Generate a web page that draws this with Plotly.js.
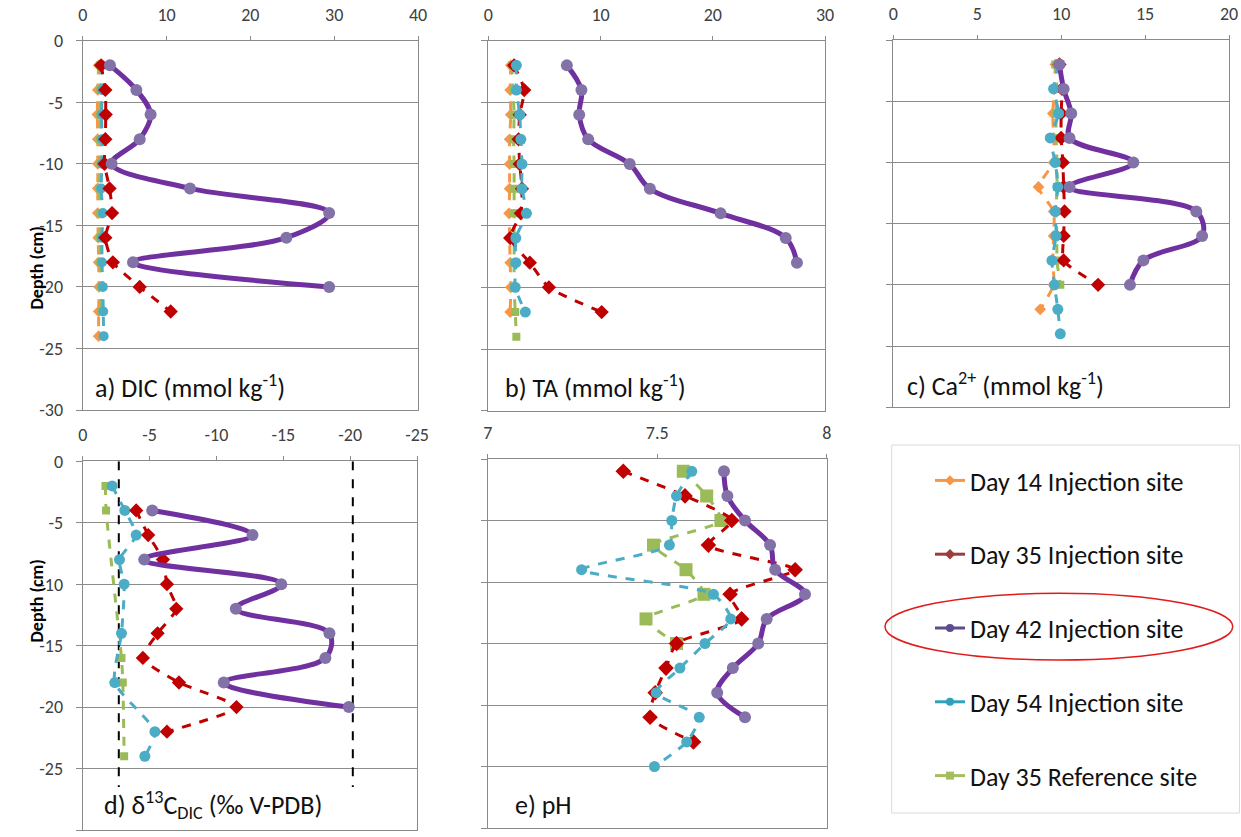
<!DOCTYPE html>
<html>
<head>
<meta charset="utf-8">
<script src="https://cdn.plot.ly/plotly-3.0.1.min.js"></script>
<style>html,body{margin:0;padding:0;background:#fff;}#chart{width:1241px;height:837px;}</style>
</head>
<body>
<div id="chart"></div>
<script>
// ---------- data ----------
const seriesNames = ['Day 14 Injection site','Day 35 Injection site','Day 42 Injection site','Day 54 Injection site','Day 35 Reference site'];
const depthEven = [-2,-4,-6,-8,-10,-12,-14,-16,-18,-20,-22,-24];
const depthOdd  = [-1,-3,-5,-7,-9,-11,-13,-15,-17,-19,-21,-23,-25];

// a) DIC (mmol kg-1)
const dicD14 = [1.9,1.8,1.75,1.8,1.8,1.8,1.8,1.85,1.9,1.95,1.9,1.9];
const dicD35 = [2.2,2.7,2.75,2.7,2.6,3.2,3.5,2.7,3.6,6.8,10.5,null];
const dicD42 = [3.25,6.4,8.1,6.8,3.45,12.8,29.4,24.3,6.0,29.4,null,null];
const dicD54 = [2.25,2.3,2.25,2.3,2.3,2.2,2.4,2.3,2.3,2.4,2.45,2.5];
const dicRef = [2.05,2.1,2.1,2.05,2.1,2.0,2.1,2.05,2.1,2.15,2.2,null];

// b) TA (mmol kg-1)
const taD14 = [2.0,1.95,2.0,1.9,1.9,1.9,1.85,1.9,1.95,2.0,1.95,null];
const taD35 = [2.3,3.2,2.8,2.7,2.8,3.0,2.9,1.95,3.7,5.4,10.1,null];
const taD42 = [7.0,8.3,8.1,8.9,12.6,14.4,20.7,26.5,27.5,null,null,null];
const taD54 = [2.5,2.5,2.8,2.9,3.0,3.0,3.4,2.45,2.45,2.4,3.3,null];
const taRef = [2.1,2.2,2.3,2.25,2.3,2.3,2.3,2.3,2.3,2.3,2.4,2.5];

// c) Ca2+ (mmol kg-1)
const caD14 = [9.65,9.6,9.5,9.55,9.55,8.65,9.55,9.55,9.5,9.55,8.75,null];
const caD35 = [9.9,10.05,10.0,10.0,10.1,10.15,10.2,10.15,10.15,12.2,null,null];
const caD42 = [9.9,10.15,10.6,10.5,14.3,10.5,18.05,18.4,14.9,14.1,null,null];
const caD54 = [9.85,9.55,9.85,9.35,9.65,9.8,9.65,9.7,9.45,9.6,9.8,9.95];
const caRef = [9.65,9.75,9.7,9.7,9.75,9.75,9.7,9.75,9.75,9.95,null,null];

// d) d13C-DIC (permil V-PDB)
const d13D35 = [null,-4.0,-4.9,-6.0,-6.3,-7.0,-5.6,-4.5,-7.2,-11.5,-6.3,null];
const d13D42 = [null,-5.2,-12.7,-4.6,-14.85,-11.45,-18.45,-18.15,-10.55,-19.9,null,null];
const d13D54 = [-2.2,-3.15,-4.0,-2.75,-3.1,null,-2.9,null,-2.4,null,-5.4,-4.65];
const d13Ref = [-1.7,-1.75,null,null,null,null,null,-2.9,-3.0,null,null,-3.1];
const d13EndMembers = [-2.7,-20.2];
const endMemberDepth = [0,-26.5];

// e) pH
const phD35 = [7.40,7.582,7.72,7.651,7.907,7.715,7.749,7.557,7.526,7.494,7.479,7.607,null];
const phD42 = [7.697,7.707,7.759,7.833,7.848,7.936,7.823,7.798,7.723,7.677,7.759,null,null];
const phD54 = [7.602,7.557,7.543,7.536,7.277,7.666,7.717,7.641,7.567,7.497,7.624,7.587,7.492];
const phRef = [7.577,7.646,7.688,7.489,7.585,7.638,7.467,7.557,null,null,null,null,null];

// tick labels
const depthTickVals = [0,-5,-10,-15,-20,-25,-30];
const depthTickText = ['0','-5','-10','-15','-20','-25','-30'];
const d13TickVals = [0,-5,-10,-15,-20,-25];
const d13TickText = ['0','-5','-10','-15','-20','-25'];
const phTickVals = [7,7.5,8];
const phTickText = ['7','7.5','8'];

// ---------- styles ----------
const FONT = 'Carlito, Lato, "Liberation Sans", sans-serif';
const colD14 = '#F79646', colD35 = '#C00000', colD42 = '#7030A0', colD54 = '#4BACC6', colRef = '#9BBB59';
const mkD42 = '#8272A8';
const legendCols = ['#F79646','#9E3B3B','#5E4C8C','#31A0BA','#A5BD5E'];
const legendSym = ['diamond','diamond','circle','circle','square'];

function dashed(x, y, color, symbol, size, xa, ya) {
  return {x:x, y:y, xaxis:xa, yaxis:ya, type:'scatter', mode:'lines+markers', showlegend:false,
    connectgaps:true, line:{color:color, width:3, dash:'dash', shape:'spline', smoothing:0.6},
    marker:{color:color, symbol:symbol, size:size}, hoverinfo:'skip'};
}
function solid42(x, y, xa, ya) {
  return {x:x, y:y, xaxis:xa, yaxis:ya, type:'scatter', mode:'lines+markers', showlegend:false,
    line:{color:colD42, width:5, shape:'spline', smoothing:1},
    marker:{color:mkD42, symbol:'circle', size:12}, hoverinfo:'skip'};
}

const traces = [];
// panel a
traces.push(dashed(dicD14, depthEven, colD14, 'diamond', 9, 'x', 'y'));
traces.push(dashed(dicRef, depthEven, colRef, 'square', 8, 'x', 'y'));
traces.push(dashed(dicD54, depthEven, colD54, 'circle', 10, 'x', 'y'));
traces.push(dashed(dicD35, depthEven, colD35, 'diamond', 11, 'x', 'y'));
traces.push(solid42(dicD42, depthEven, 'x', 'y'));
// panel b
traces.push(dashed(taD14, depthEven, colD14, 'diamond', 9, 'x2', 'y2'));
traces.push(dashed(taRef, depthEven, colRef, 'square', 8, 'x2', 'y2'));
traces.push(dashed(taD35, depthEven, colD35, 'diamond', 11, 'x2', 'y2'));
traces.push(dashed(taD54, depthEven, colD54, 'circle', 11, 'x2', 'y2'));
traces.push(solid42(taD42, depthEven, 'x2', 'y2'));
// panel c
traces.push(dashed(caD14, depthEven, colD14, 'diamond', 9, 'x3', 'y3'));
traces.push(dashed(caRef, depthEven, colRef, 'square', 8, 'x3', 'y3'));
traces.push(dashed(caD35, depthEven, colD35, 'diamond', 11, 'x3', 'y3'));
traces.push(dashed(caD54, depthEven, colD54, 'circle', 11, 'x3', 'y3'));
traces.push(solid42(caD42, depthEven, 'x3', 'y3'));
// panel d
d13EndMembers.forEach(v => traces.push({x:[v, v], y:endMemberDepth, xaxis:'x4', yaxis:'y4', type:'scatter', mode:'lines',
  showlegend:false, line:{color:'#000', width:2, dash:'dash'}, hoverinfo:'skip'}));
traces.push(dashed(d13Ref, depthEven, colRef, 'square', 8, 'x4', 'y4'));
traces.push(dashed(d13D54, depthEven, colD54, 'circle', 11, 'x4', 'y4'));
traces.push(dashed(d13D35, depthEven, colD35, 'diamond', 11, 'x4', 'y4'));
traces.push(solid42(d13D42, depthEven, 'x4', 'y4'));
// panel e
traces.push(dashed(phRef, depthOdd, colRef, 'square', 13, 'x5', 'y5'));
traces.push(dashed(phD35, depthOdd, colD35, 'diamond', 12, 'x5', 'y5'));
traces.push(dashed(phD54, depthOdd, colD54, 'circle', 11, 'x5', 'y5'));
traces.push(solid42(phD42, depthOdd, 'x5', 'y5'));
// legend entries
seriesNames.forEach((n, i) => traces.push({x:[null], y:[null], xaxis:'x', yaxis:'y', type:'scatter', mode:'lines+markers',
  name:n, legendgroup:'g'+i, showlegend:true, line:{color:legendCols[i], width:3}, marker:{color:legendCols[i], symbol:legendSym[i], size:8}}));

const AX = '#8a8a8a';
const TICKFONT = {size:18, color:'#404040', family:FONT};
function xax(dom, range, extra) {
  return Object.assign({domain:dom, range:range, side:'top', showline:true, mirror:true, linecolor:AX, linewidth:1,
    ticks:'outside', ticklen:4, tickcolor:AX, showgrid:false, zeroline:false, fixedrange:true,
    tickfont:TICKFONT, ticklabelstandoff:8}, extra);
}
function yax(dom, labels, anchor) {
  return {domain:dom, range:[-30,0], anchor:anchor, tickvals:depthTickVals, ticktext:depthTickText, showticklabels:labels,
    showline:true, mirror:true, linecolor:AX, linewidth:1, ticks:'outside', ticklen:6, tickcolor:AX,
    showgrid:true, gridcolor:'#8c8c8c', gridwidth:1, zeroline:false, fixedrange:true,
    tickfont:TICKFONT, ticklabelstandoff:9};
}
const W = 1241, H = 837;
const px = v => v / W, py = v => 1 - v / H;
const LBL = {size:26, family:FONT, color:'#111'};
const DEPTHFONT = {size:18, family:FONT, color:'#000', weight:'bold'};

const layout = {
  width:W, height:H, margin:{l:0, r:0, t:0, b:0}, paper_bgcolor:'#fff', plot_bgcolor:'#fff',
  font:{family:FONT, color:'#000'}, showlegend:true,
  xaxis:  xax([px(82.7), px(418)], [0,40], {dtick:10, anchor:'y'}),
  xaxis2: xax([px(488.3), px(825)], [0,30], {dtick:10, anchor:'y2'}),
  xaxis3: xax([px(893.3), px(1229)], [0,20], {dtick:5, anchor:'y3'}),
  xaxis4: xax([px(82.7), px(417)], [0,-25], {tickvals:d13TickVals, ticktext:d13TickText, anchor:'y4'}),
  xaxis5: xax([px(487.7), px(826.7)], [7,8], {tickvals:phTickVals, ticktext:phTickText, anchor:'y5'}),
  yaxis:  yax([py(410), py(40.7)], true, 'x'),
  yaxis2: yax([py(410.7), py(40.7)], false, 'x2'),
  yaxis3: yax([py(407.3), py(40)], false, 'x3'),
  yaxis4: yax([py(830), py(461.3)], true, 'x4'),
  yaxis5: yax([py(828), py(459)], false, 'x5'),
  legend:{x:px(930), y:py(457), xanchor:'left', yanchor:'top', bgcolor:'rgba(0,0,0,0)', borderwidth:0,
    font:{size:26, color:'#111', family:FONT}, tracegroupgap:37, itemwidth:30},
  shapes:[
    {type:'rect', xref:'paper', yref:'paper', x0:px(891.7), x1:px(1239.5), y0:py(813), y1:py(445),
      line:{color:'#dadada', width:1}},
    {type:'circle', xref:'paper', yref:'paper', x0:px(885), x1:px(1232.7), y0:py(660), y1:py(593.3),
      line:{color:'#E31A1A', width:1.5}}
  ],
  annotations:[
    {text:'Depth (cm)', xref:'paper', yref:'paper', x:px(23), y:py(225), textangle:-90, showarrow:false, font:DEPTHFONT},
    {text:'Depth (cm)', xref:'paper', yref:'paper', x:px(23), y:py(645), textangle:-90, showarrow:false, font:DEPTHFONT},
    {text:'a) DIC (mmol kg<sup>-1</sup>)', xref:'paper', yref:'paper', x:px(93), y:py(386), xanchor:'left', yanchor:'middle', showarrow:false, font:LBL},
    {text:'b) TA (mmol kg<sup>-1</sup>)', xref:'paper', yref:'paper', x:px(502.7), y:py(386), xanchor:'left', yanchor:'middle', showarrow:false, font:LBL},
    {text:'c) Ca<sup>2+</sup> (mmol kg<sup>-1</sup>)', xref:'paper', yref:'paper', x:px(905), y:py(385), xanchor:'left', yanchor:'middle', showarrow:false, font:LBL},
    {text:'d) δ<sup>13</sup>C<sub>DIC</sub> (‰ V-PDB)', xref:'paper', yref:'paper', x:px(102), y:py(805), xanchor:'left', yanchor:'middle', showarrow:false, font:LBL},
    {text:'e) pH', xref:'paper', yref:'paper', x:px(512.7), y:py(805), xanchor:'left', yanchor:'middle', showarrow:false, font:LBL}
  ]
};

Plotly.newPlot('chart', traces, layout, {staticPlot:true, displayModeBar:false});
</script>
</body>
</html>
